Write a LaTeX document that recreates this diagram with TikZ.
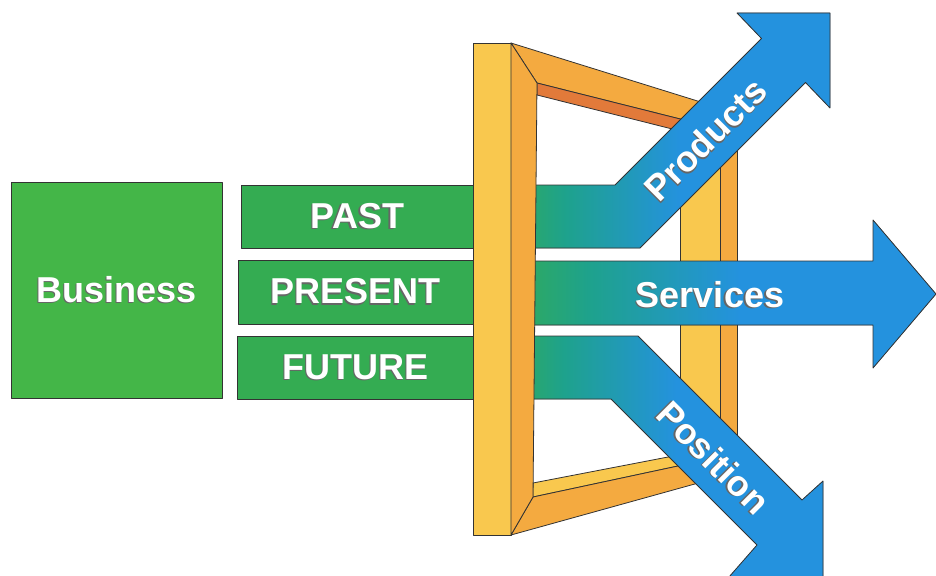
\documentclass[tikz,border=0pt]{standalone}
\usepackage{fontspec}
\setmainfont{Liberation Sans}
\definecolor{bizgreen}{RGB}{68,182,72}
\definecolor{bargreen}{RGB}{52,172,82}
\definecolor{tealmid}{RGB}{30,162,140}
\definecolor{arrowblue}{RGB}{36,146,222}
\definecolor{postyellow}{RGB}{249,200,78}
\definecolor{postorange}{RGB}{244,170,64}
\definecolor{darkorange}{RGB}{226,122,58}
\pgfdeclarehorizontalshading{greentoblue}{100bp}{color(0bp)=(bargreen); color(26bp)=(bargreen);
	color(36bp)=(tealmid); color(53bp)=(arrowblue); color(100bp)=(arrowblue)}
\newcommand{\embossed}[1]{\makebox[0pt][l]{\kern-1.3pt\raisebox{-1.3pt}{\textcolor{black!60}{#1}}}#1}
\begin{document}
\begin{tikzpicture}[x=1pt,y=-1pt,
	edge/.style={draw=black!80,line width=0.8pt,line join=round},
	word/.style={text=white,font=\fontsize{36}{36}\selectfont\bfseries},
	box/.style={edge,word,fill=#1,inner sep=0pt,anchor=west},
	arrowbody/.style={edge,shading=greentoblue}]
	\useasboundingbox (0,0) rectangle (936,575);
	\clip (0,0) rectangle (936,575);
	% back of the frame
	\filldraw[edge,fill=postorange] (720,108) rectangle (737,475);
	\filldraw[edge,fill=postyellow] (680,125) rectangle (720,475);
	\filldraw[edge,fill=postorange] (511,43) -- (720,108) -- (720,129) -- (537,83) -- cycle;
	\filldraw[edge,fill=darkorange] (537,83) -- (720,129) -- (720,141) -- (537,95) -- cycle;
	\filldraw[edge,fill=postyellow] (533,483) -- (720,447) -- (720,457) -- (533,497) -- cycle;
	\filldraw[edge,fill=postorange] (533,497) -- (720,457) -- (720,477) -- (511,535) -- cycle;
	% arrows
	\filldraw[arrowbody] (490,185) -- (615,185) -- (761.5,38.5) -- (737,13) -- (830,13)
		-- (830,108) -- (805.5,82.5) -- (640,248) -- (490,248) -- cycle;
	\filldraw[arrowbody] (490,261) -- (873,261) -- (873,220) -- (936,294) -- (873,368)
		-- (873,325) -- (490,325) -- cycle;
	\filldraw[arrowbody] (490,336) -- (638,336) -- (802,500) -- (823,481) -- (823,577)
		-- (729,577) -- (757,545) -- (611,399) -- (490,399) -- cycle;
	\node[word,rotate=45] (products) at (706,140) {\embossed{Products}};
	\node[word] (services) at (710,295) {\embossed{Services}};
	\node[word,rotate=-45] (position) at (713,458) {\embossed{Position}};
	% boxes
	\node[box=bizgreen,minimum width=211pt,minimum height=216pt] (business) at (11,290) {\embossed{Business}};
	\node[box=bargreen,minimum width=232pt,minimum height=63pt] (past) at (241,216.5) {\embossed{PAST}};
	\node[box=bargreen,minimum width=235pt,minimum height=64pt] (present) at (238,292) {\embossed{PRESENT}};
	\node[box=bargreen,minimum width=236pt,minimum height=63pt] (future) at (237,367.5) {\embossed{FUTURE}};
	% front post
	\filldraw[edge,fill=postyellow] (473,43) rectangle (511,535);
	\filldraw[edge,fill=postorange] (511,43) -- (537,83) -- (533,497) -- (511,535) -- cycle;
\end{tikzpicture}
\end{document}
